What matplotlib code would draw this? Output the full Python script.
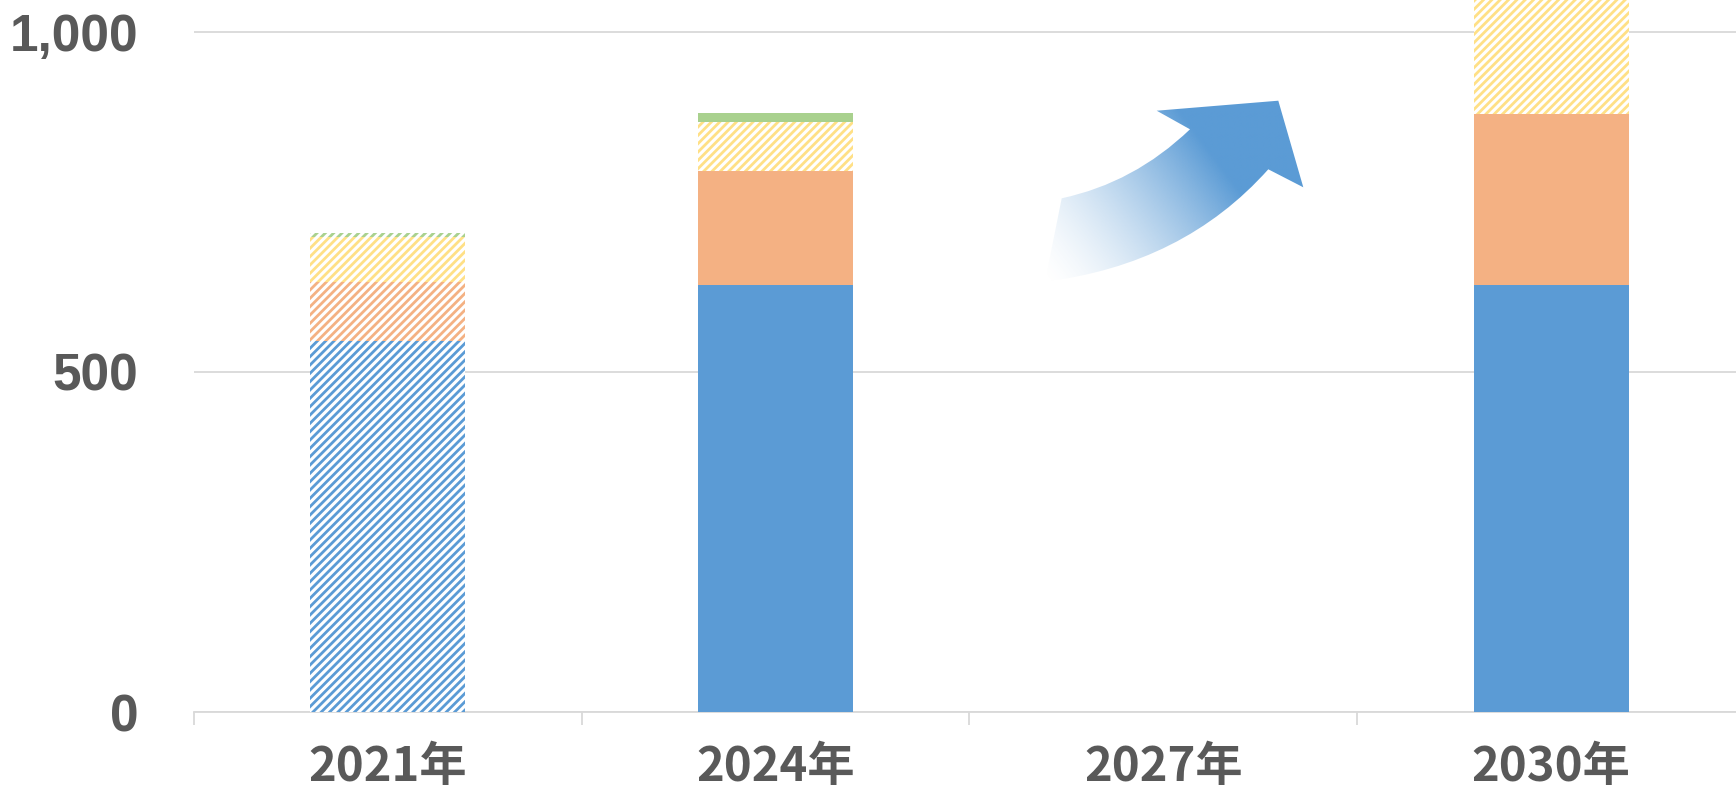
import numpy as np
import matplotlib
matplotlib.use("Agg")
import matplotlib.pyplot as plt
from matplotlib.path import Path
from matplotlib.patches import PathPatch

# ---- data ----
categories = ["2021年", "2024年", "2027年", "2030年"]
blue_vals = [545, 628, 0, 628]
orange_vals = [88, 168, 0, 252]
yellow_vals = [65, 72, 0, 200]
green_vals = [6, 13, 0, 0]
y_ticks = [0, 500, 1000]
y_tick_labels = ["0", "500", "1,000"]

# ---- style ----
colors = {"blue": "#5B9BD5", "orange": "#F4B183", "yellow": "#FFE086", "green": "#A9D18E"}
# which segments are hatched (per category)
hatched = {
    "blue":   [True, False, False, False],
    "orange": [True, False, False, False],
    "yellow": [True, True, False, True],
    "green":  [True, False, False, False],
}
label_color = "#595959"
grid_color = "#D9D9D9"

W, H = 1736, 793
fig = plt.figure(figsize=(W / 100, H / 100), dpi=100)
plt.rcParams["hatch.linewidth"] = 2.0

left_px, right_px, base_px, top_px = 193.7, 1745.0, 712.0, 0.0
ax = fig.add_axes([left_px / W, 1 - base_px / H, (right_px - left_px) / W, (base_px - top_px) / H])
ax.set_xlim(-0.5, 3.5)
ax.set_ylim(0, 1047)

x = np.arange(len(categories))
bw = 0.40
bottom = np.zeros(len(categories))
for key, vals in [("blue", blue_vals), ("orange", orange_vals), ("yellow", yellow_vals), ("green", green_vals)]:
    vals = np.array(vals, dtype=float)
    for i in range(len(categories)):
        if vals[i] <= 0:
            continue
        if hatched[key][i]:
            ax.bar(x[i], vals[i], bw, bottom=bottom[i], facecolor="white",
                   edgecolor=colors[key], linewidth=0, hatch="////", zorder=3)
        else:
            ax.bar(x[i], vals[i], bw, bottom=bottom[i], color=colors[key],
                   linewidth=0, zorder=3)
    bottom += vals

# axes styling
for s in ["left", "top", "right"]:
    ax.spines[s].set_visible(False)
ax.spines["bottom"].set_color(grid_color)
ax.spines["bottom"].set_linewidth(1.3)
ax.set_yticks(y_ticks)
ax.set_yticklabels(y_tick_labels)
ax.tick_params(axis="y", length=0, pad=40, labelsize=37, labelcolor=label_color)
for t in ax.get_yticklabels():
    t.set_fontfamily("Liberation Sans")
    t.set_fontweight("bold")
ax.yaxis.grid(True, color=grid_color, linewidth=1.3, zorder=0)
ax.set_axisbelow(True)

ax.set_xticks(np.arange(-0.5, 4.0, 1.0))
ax.set_xticklabels([])
ax.tick_params(axis="x", which="major", length=9.5, width=1.3, color=grid_color)
ax.set_xticks(x, minor=True)
ax.set_xticklabels(categories, minor=True)
ax.tick_params(axis="x", which="minor", length=0, pad=22, labelsize=34, labelcolor=label_color)
for t in ax.get_xticklabels(minor=True):
    t.set_fontfamily(["Noto Sans CJK JP", "DejaVu Sans"])
    t.set_fontweight("bold")

# ---- decorative gradient arrow (pixel coordinates overlay) ----
ov = fig.add_axes([0, 0, 1, 1], zorder=5)
ov.set_xlim(0, W)
ov.set_ylim(H, 0)
ov.axis("off")
ov.patch.set_alpha(0)

verts = [
    (1045.0, 281.7),           # tail lower
    (1061.7, 198.3),           # tail upper
    (1134.2, 182.8), (1190.0, 129.3),   # upper edge curve
    (1156.7, 110.7),           # left barb
    (1278.3, 100.7),           # tip top
    (1303.3, 187.3),           # tip right
    (1268.3, 169.3),           # right barb
    (1183.4, 264.5), (1045.0, 281.7),   # lower edge curve
    (1045.0, 281.7),
]
codes = [Path.MOVETO, Path.LINETO, Path.CURVE3, Path.CURVE3, Path.LINETO, Path.LINETO,
         Path.LINETO, Path.LINETO, Path.CURVE3, Path.CURVE3, Path.CLOSEPOLY]
arrow_path = Path(verts, codes)
patch = PathPatch(arrow_path, facecolor="none", edgecolor="none", transform=ov.transData)
ov.add_patch(patch)

x0, x1, y0, y1 = 1030, 1320, 90, 300
gx, gy = np.meshgrid(np.linspace(x0, x1, 300), np.linspace(y0, y1, 220))
d = np.array([0.80, -0.60])
proj = (gx - 1045.0) * d[0] + (gy - 281.7) * d[1]
a = np.clip((proj - 0) / 210.0, 0, 1) ** 1.5
rgb = np.array(matplotlib.colors.to_rgb("#5B9BD5"))
img = np.zeros(gx.shape + (4,))
img[..., :3] = rgb
img[..., 3] = a
im = ov.imshow(img, extent=(x0, x1, y1, y0), origin="upper", interpolation="bilinear", zorder=6)
im.set_clip_path(patch)
ov.set_xlim(0, W)
ov.set_ylim(H, 0)

fig.savefig("out.png", dpi=100)
